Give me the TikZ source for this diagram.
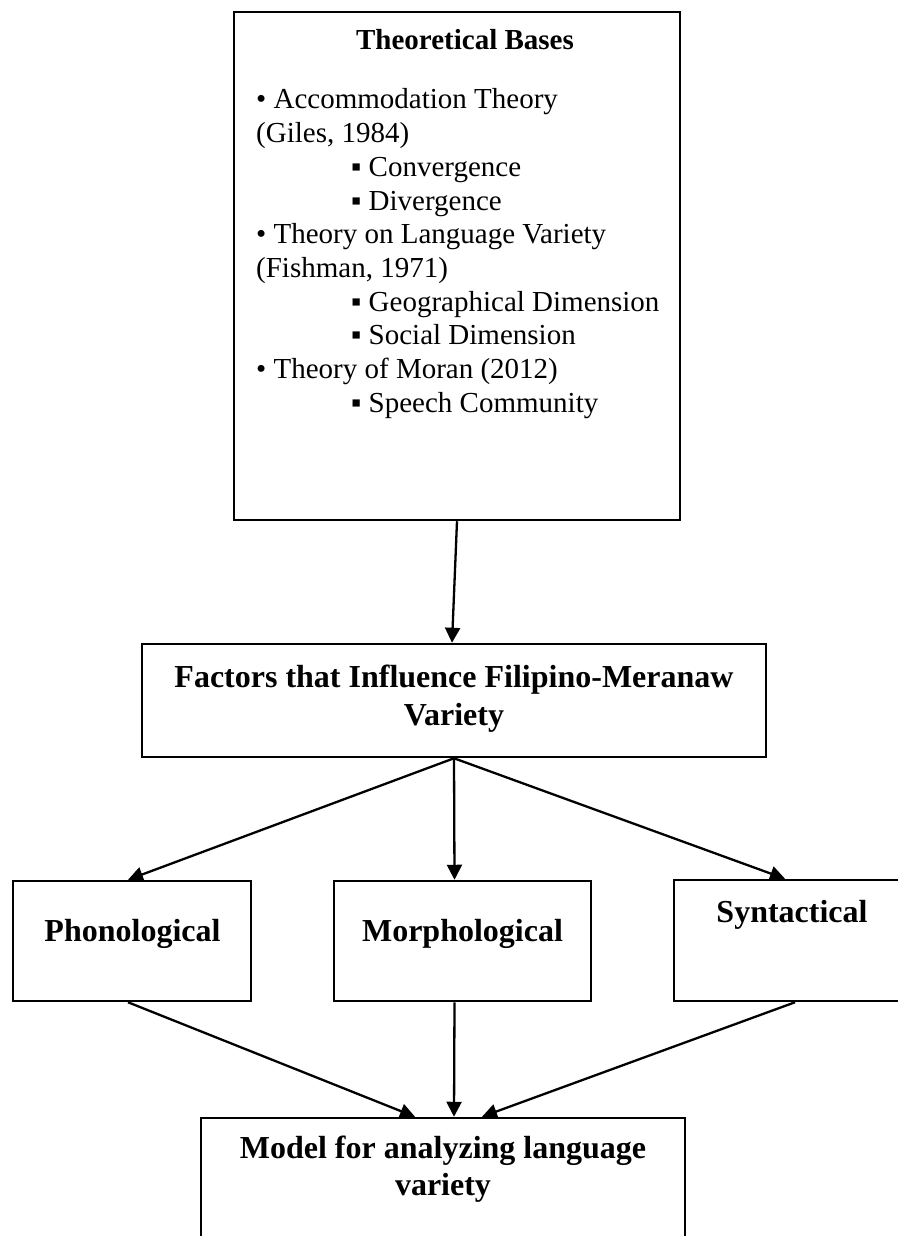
\documentclass[tikz,border=0pt]{standalone}
\usepackage{fontspec}
\setmainfont{Liberation Serif}
\usetikzlibrary{arrows.meta,calc}
\begin{document}
\begin{tikzpicture}[x=1pt,y=-1pt,
  box/.style={draw,line width=2.5pt,inner sep=0pt,fill=none},
  conn/.style={line width=2.3pt,-{Triangle[length=15pt,width=15pt]}},
  body/.style={inner sep=0pt,anchor=base west,font=\fontsize{29}{33.7}\selectfont},
  lbl/.style={inner sep=0pt,anchor=base,font=\fontsize{32}{38}\selectfont\bfseries}]
\useasboundingbox (0,0) rectangle (897,1236);
% boxes
\node[box,minimum width=446pt,minimum height=508pt] (theory) at (457,266) {};
\node[box,minimum width=624pt,minimum height=113pt] (factors) at (454,700.5) {};
\node[box,minimum width=238pt,minimum height=120pt] (phon) at (132,941) {};
\node[box,minimum width=257pt,minimum height=120pt] (morph) at (462.5,941) {};
\node[box,minimum width=236pt,minimum height=121pt] (syn) at (792,940.5) {};
\node[box,minimum width=484pt,minimum height=140pt] (model) at (443,1188) {};
% texts of the top box
\node[inner sep=0pt,anchor=base,font=\fontsize{29}{33.7}\selectfont\bfseries] (ttitle) at (465,50) {Theoretical Bases};
\node[body] (t1) at (256,109) {• Accommodation Theory};
\node[body] (t2) at (256,142.7) {(Giles, 1984)};
\node[body] (t3) at (351,176.4) {▪ Convergence};
\node[body] (t4) at (351,210.1) {▪ Divergence};
\node[body] (t5) at (256,243.8) {• Theory on Language Variety};
\node[body] (t6) at (256,277.5) {(Fishman, 1971)};
\node[body] (t7) at (351,311.2) {▪ Geographical Dimension};
\node[body] (t8) at (351,344.9) {▪ Social Dimension};
\node[body] (t9) at (256,378.6) {• Theory of Moran (2012)};
\node[body] (t10) at (351,412.3) {▪ Speech Community};
% labels
\node[lbl] (f1) at (454,687) {Factors that Influence Filipino-Meranaw};
\node[lbl] (f2) at (454,725) {Variety};
\node[lbl] (lphon) at (132.5,941) {Phonological};
\node[lbl] (lmorph) at (462.5,941) {Morphological};
\node[lbl] (lsyn) at (792,922) {Syntactical};
\node[lbl] (m1) at (443,1158) {Model for analyzing language};
\node[lbl] (m2) at (443,1195) {variety};
% connectors
\draw[conn] (theory.south) -- ([xshift=-2pt]factors.north);
\draw[conn] (factors.south) -- ([xshift=-4pt]phon.north);
\draw[conn] (factors.south) -- ([xshift=-8pt]morph.north);
\draw[conn] (factors.south) -- ([xshift=-7pt]syn.north);
\draw[conn] ([xshift=-4pt]phon.south) -- ([xshift=-28pt]model.north);
\draw[conn] ([xshift=-8pt]morph.south) -- ([xshift=11pt]model.north);
\draw[conn] ([xshift=3pt]syn.south) -- ([xshift=39pt]model.north);
\end{tikzpicture}
\end{document}
